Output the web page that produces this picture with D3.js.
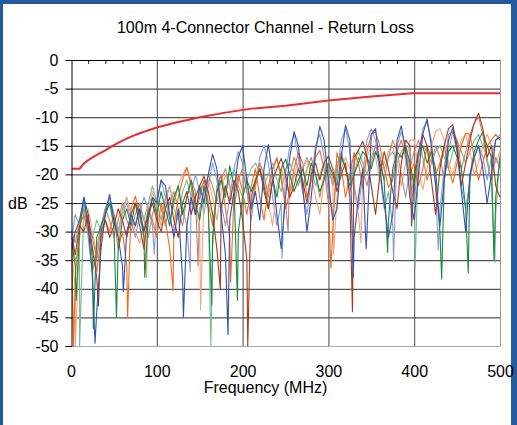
<!DOCTYPE html>
<html>
<head>
<meta charset="utf-8">
<script src="https://cdn.jsdelivr.net/npm/d3@7"></script>
<style>
  body { margin: 0; background: #fff; }
  svg text { font-family: Arial, "Liberation Sans", sans-serif; fill: #000; }
</style>
</head>
<body>
<div id="chart"></div>
<script>
// frequency grid (MHz) for the measured traces
var freq = [1, 5, 10, 15, 20, 25, 30, 35, 40, 45, 50, 55, 60, 65, 70, 75, 80, 85, 90, 95,
  100, 105, 110, 115, 120, 125, 130, 135, 140, 145, 150, 155, 160, 165, 170, 175, 180, 185, 190, 195,
  200, 205, 210, 215, 220, 225, 230, 235, 240, 245, 250, 255, 260, 265, 270, 275, 280, 285, 290, 295,
  300, 305, 310, 315, 320, 325, 330, 335, 340, 345, 350, 355, 360, 365, 370, 375, 380, 385, 390, 395,
  400, 405, 410, 415, 420, 425, 430, 435, 440, 445, 450, 455, 460, 465, 470, 475, 480, 485, 490, 495, 500];

var blue = [-33, -30, -28, -24, -29, -38, -44, -33, -27, -23.5, -28, -31, -36, -30, -27, -29, -26, -30, -27, -24,
  -25, -21, -22, -27, -31, -26, -38, -29, -24, -27, -22, -25, -20, -16.5, -19, -27, -34, -28, -23, -17,
  -15, -21, -26, -23, -28, -19, -14.8, -20, -27, -33, -24, -17, -12.5, -15, -22, -30, -24, -16, -11.6, -14,
  -21, -28, -26, -17, -11.4, -14, -31, -24, -19, -30, -13, -12, -19, -25, -31, -27, -14, -11.5, -16, -24,
  -28, -20, -13, -10.3, -15, -22, -29, -21, -14, -11.8, -16, -23, -30, -20, -17, -15, -19, -25, -20, -14, -13.5];
var blueNulls = [[28, -49.5], [61, -40.5], [131, -45], [183, -48], [329, -38], [344, -33]];

var lightBlue = [-31, -27, -29, -25, -31, -37, -33, -29, -26, -24, -27, -30, -27, -25, -28, -31, -27, -24, -26, -29,
  -25, -21, -24, -28, -25, -22, -26, -29, -23, -20, -23, -27, -22, -18, -21, -25, -29, -24, -19, -16,
  -18, -23, -28, -22, -17, -15, -18, -24, -29, -25, -20, -15, -13, -17, -23, -27, -21, -15, -13, -17,
  -23, -27, -20, -14, -12, -16, -22, -26, -20, -14, -12, -14, -20, -26, -23, -29, -15, -12.5, -15, -21,
  -25, -17, -12, -10.8, -14, -22, -26, -19, -13, -12.5, -16, -22, -26, -21, -17, -15, -17, -21, -17, -14, -13];
var lightBlueNulls = [[97, -34], [139, -37], [246, -34.7], [376, -35], [428, -33.2]];

var green = [-32, -36, -30, -24, -27, -35, -31, -29, -27, -25, -29, -33, -28, -26, -29, -25, -27, -31, -28, -24,
  -27, -23, -26, -29, -24, -22, -27, -24, -21, -25, -28, -22, -26, -31, -23, -21, -24, -18.5, -22, -30,
  -24, -21, -23, -21, -19, -23, -26, -21, -24, -19, -17.3, -20, -23, -21, -19, -22, -18, -20, -23, -21,
  -18, -20, -22, -16.8, -19, -22, -20, -18, -16, -17, -19, -16, -18, -21, -28, -19, -16, -17, -15, -18,
  -22, -16, -15, -18, -16, -19, -30, -21, -16, -15, -17, -19, -26, -20, -16, -14, -12.6, -15, -17, -24, -17];
var greenNulls = [[6, -42], [26, -47], [53, -45], [86, -38], [164, -42.8], [194, -42], [369, -33.6], [432, -38.3], [463, -37.2], [493, -35]];

var lightGreen = [-31, -35, -33, -26, -28, -31, -28, -30, -26, -24, -27, -30, -26, -24, -27, -29, -25, -28, -25, -22,
  -25, -28, -24, -22, -26, -28, -23, -21, -24, -27, -23, -21, -25, -33, -22, -20, -23, -21, -19, -22,
  -24, -21, -19, -18, -19.5, -22, -20, -18, -21, -23, -19, -18, -20, -22, -19, -17, -19, -22, -20, -18,
  -20, -21, -18, -17, -19, -21, -18, -16, -18, -20, -17, -15, -17, -19, -17, -16, -18, -16, -15, -19,
  -24, -17, -15, -16, -18, -16, -15, -17, -19, -16, -14, -16, -18, -16, -14, -13, -15, -17, -22, -27, -16];
var lightGreenNulls = [[10, -50], [163, -50], [401, -36.4], [494, -35.4]];

var orange = [-33, -38, -29, -27, -30, -33, -37, -31, -28, -30, -27, -33, -30, -36, -26, -23.8, -27, -30, -26, -28,
  -31, -25, -28, -33, -29, -24, -21, -18.8, -22, -27, -24, -21, -25, -29, -23, -20, -26, -31, -24, -20,
  -23, -27, -22, -19, -24, -28, -22, -19, -17.3, -20, -26, -23, -19, -16.2, -18, -24, -21, -17, -15.8, -19,
  -25, -30, -16.2, -19, -24, -20, -16.2, -18, -22.4, -16, -13, -12.6, -15, -19, -22.3, -21, -16, -14, -17, -20,
  -18, -22, -19, -15, -17, -20, -18, -15, -19, -21.5, -18, -15, -12.8, -13, -17, -21, -18, -15, -14, -13, -14];
var orangeNulls = [[3, -50], [66, -45], [119, -40.3], [186, -38.8], [303, -36.4]];

var lightOrange = [-34, -40, -31, -28, -26, -30, -34, -29, -27, -25, -28, -31, -27, -24, -27, -30, -32, -29, -26, -23,
  -26, -29, -25, -22, -25, -22, -20, -18.8, -21, -26, -30, -24, -21, -24, -28, -23, -20, -22, -26, -21,
  -19, -22, -26, -21, -18, -21, -25, -29, -22, -19, -21, -24, -20, -18, -19, -17.5, -20, -24, -27, -21,
  -18, -20, -24, -19, -17, -19, -23, -27, -21, -17, -15, -17, -21, -18, -16, -15, -18, -22, -18, -14,
  -14, -19, -22.7, -19, -15, -12.5, -12, -14, -18, -20, -17, -14, -13, -16, -20, -18, -15, -13, -15, -18, -16];
var lightOrangeNulls = [[5, -50], [88, -38], [151, -43.7], [306, -34], [338, -32]];

var brown = [-31, -34, -29, -30, -27, -33, -38, -30, -28, -31, -29, -26, -28, -31, -27, -25, -29, -33, -27, -25,
  -28, -30, -26, -24, -28, -31, -25, -23, -27, -24, -22, -20.3, -23, -27, -33, -26, -22, -25, -21, -23,
  -28, -35, -24, -21, -19, -22, -26, -21, -19, -17.2, -20, -24, -22, -19, -21, -25, -20, -18, -21, -18,
  -16.8, -19, -23, -20, -18, -24, -17, -15.8, -14.2, -17, -22, -27, -20, -16, -19, -23, -26, -18, -14, -15,
  -20, -16, -13, -15, -21, -27, -19, -15, -12, -11.3, -15, -22, -18, -14, -11, -9.3, -12, -17, -15, -22, -24];
var brownNulls = [[32, -43], [174, -40], [206, -50], [328, -44], [397, -29]];

var rosy = [-30, -32, -28, -26, -29, -31, -35, -29, -26, -28, -31, -28, -25, -28, -30, -27, -25, -28, -31, -27,
  -24, -26, -29, -25, -23, -26, -29, -24, -21, -23, -26, -23, -20, -22, -25, -21, -19, -22, -26, -21,
  -19, -23, -26, -22, -18, -20, -24, -19, -17, -21, -25, -20, -17, -19, -23, -19, -17, -20, -24, -20,
  -18, -22, -19, -16, -19, -23, -20, -17, -19, -22, -18, -15, -17, -21, -17, -14, -16, -20, -24, -19,
  -16, -14, -17, -21, -18, -15, -17, -21, -16, -12.5, -14, -19, -16, -13, -11, -10, -13, -18, -21, -17, -19];
var rosyNulls = [[148, -36], [253, -30]];

// return loss limit
var limitFreq = [1, 10, 15, 20, 30, 40, 50, 60, 70, 80, 100, 120, 150, 180, 210, 250, 300, 350, 398, 500];
var limitDb = [-19, -19, -18.1, -17.5, -16.6, -15.8, -14.9, -14.1, -13.4, -12.8, -11.8, -11.0, -10.0, -9.2, -8.5, -8.0, -7.1, -6.4, -5.8, -5.8];

var xTicks = [0, 100, 200, 300, 400, 500];
var xMinorTicks = [20, 40, 60, 80, 120, 140, 160, 180, 220, 240, 260, 280, 320, 340, 360, 380, 420, 440, 460, 480];
var yTicks = [0, -5, -10, -15, -20, -25, -30, -35, -40, -45, -50];

var W = 517, H = 425;

var svg = d3.select("#chart").append("svg")
  .attr("width", W)
  .attr("height", H);

// blue frame
svg.append("rect").attr("width", W).attr("height", H).attr("fill", "#265a9e");
svg.append("rect").attr("x", 3).attr("y", 4).attr("width", 508).attr("height", H - 4).attr("fill", "#fff");

var x = d3.scaleLinear().domain([0, 500]).range([71, 500]);
var y = d3.scaleLinear().domain([-50, 0]).range([346, 60]);

svg.append("text")
  .attr("x", 265.5)
  .attr("y", 33)
  .attr("text-anchor", "middle")
  .style("font-size", "16px")
  .text("100m 4-Connector Channel - Return Loss");

// grid
svg.append("g").selectAll("line")
  .data(yTicks)
  .enter().append("line")
  .attr("x1", x(0)).attr("x2", x(500))
  .attr("y1", function(d) { return y(d) + 0.5; })
  .attr("y2", function(d) { return y(d) + 0.5; })
  .attr("stroke", function(d) { return d == -50 ? "#aaa" : "#2a2a2a"; })
  .attr("stroke-width", 1);

svg.append("g").selectAll("line")
  .data(xTicks.slice(1))
  .enter().append("line")
  .attr("x1", function(d) { return x(d) + 0.5; })
  .attr("x2", function(d) { return x(d) + 0.5; })
  .attr("y1", y(0)).attr("y2", y(-50))
  .attr("stroke", function(d) { return d == 500 ? "#999" : "#444"; })
  .attr("stroke-width", 1);

// minor ticks along the top edge
svg.append("g").selectAll("line")
  .data(xMinorTicks)
  .enter().append("line")
  .attr("x1", function(d) { return x(d) + 0.5; })
  .attr("x2", function(d) { return x(d) + 0.5; })
  .attr("y1", y(0)).attr("y2", y(0) + 4)
  .attr("stroke", "#222");

// traces
function points(vals, nulls) {
  var pts = freq.map(function(f, i) { return [f, vals[i]]; });
  pts = pts.concat(nulls);
  pts.sort(function(a, b) { return a[0] - b[0]; });
  return pts;
}

var line = d3.line()
  .x(function(d) { return x(d[0]); })
  .y(function(d) { return y(d[1]); });

var series = [
  { pts: points(lightGreen, lightGreenNulls), color: "#74bd94" },
  { pts: points(lightBlue, lightBlueNulls), color: "#8a9ad6" },
  { pts: points(lightOrange, lightOrangeNulls), color: "#f6a47c" },
  { pts: points(rosy, rosyNulls), color: "#c28673" },
  { pts: points(orange, orangeNulls), color: "#f26b1d" },
  { pts: points(green, greenNulls), color: "#168a3e" },
  { pts: points(brown, brownNulls), color: "#a6381c" },
  { pts: points(blue, blueNulls), color: "#3350b0" }
];

svg.append("defs").append("clipPath").attr("id", "plot")
  .append("rect").attr("x", x(0)).attr("y", y(0)).attr("width", x(500) - x(0)).attr("height", y(-50) - y(0) + 1);

var traces = svg.append("g").attr("clip-path", "url(#plot)");

traces.selectAll("path.trace")
  .data(series)
  .enter().append("path")
  .attr("class", "trace")
  .attr("d", function(d) { return line(d.pts); })
  .attr("fill", "none")
  .attr("stroke", function(d) { return d.color; })
  .attr("stroke-width", 1.1)
  .attr("stroke-linejoin", "round");

traces.append("path")
  .datum(limitFreq.map(function(f, i) { return [f, limitDb[i]]; }))
  .attr("d", line)
  .attr("fill", "none")
  .attr("stroke", "#ee2a2e")
  .attr("stroke-width", 2);

// top border
svg.append("line")
  .attr("x1", x(0)).attr("x2", x(500))
  .attr("y1", y(0) + 0.5).attr("y2", y(0) + 0.5)
  .attr("stroke", "#000");

// axes
var yAxis = d3.axisLeft(y)
  .tickValues(yTicks)
  .tickSize(6)
  .tickPadding(7)
  .tickFormat(function(d) { return String(d); });

svg.append("g")
  .attr("transform", "translate(" + (x(0) + 0.5) + ",0)")
  .call(yAxis)
  .call(function(g) {
    g.select(".domain").attr("stroke", "#000");
    g.selectAll("text").style("font-size", "16px").style("font-family", "Arial, 'Liberation Sans', sans-serif");
  });

var xAxis = d3.axisBottom(x)
  .tickValues(xTicks)
  .tickSize(0)
  .tickPadding(20)
  .tickFormat(function(d) { return String(d); });

svg.append("g")
  .attr("transform", "translate(0," + y(-50) + ")")
  .call(xAxis)
  .call(function(g) {
    g.select(".domain").remove();
    g.selectAll("text").style("font-size", "16px").style("font-family", "Arial, 'Liberation Sans', sans-serif");
  });

svg.append("text")
  .attr("x", 265.5)
  .attr("y", 393)
  .attr("text-anchor", "middle")
  .style("font-size", "16px")
  .text("Frequency (MHz)");

svg.append("text")
  .attr("x", 8)
  .attr("y", y(-25) + 5.5)
  .style("font-size", "16px")
  .text("dB");
</script>
</body>
</html>
